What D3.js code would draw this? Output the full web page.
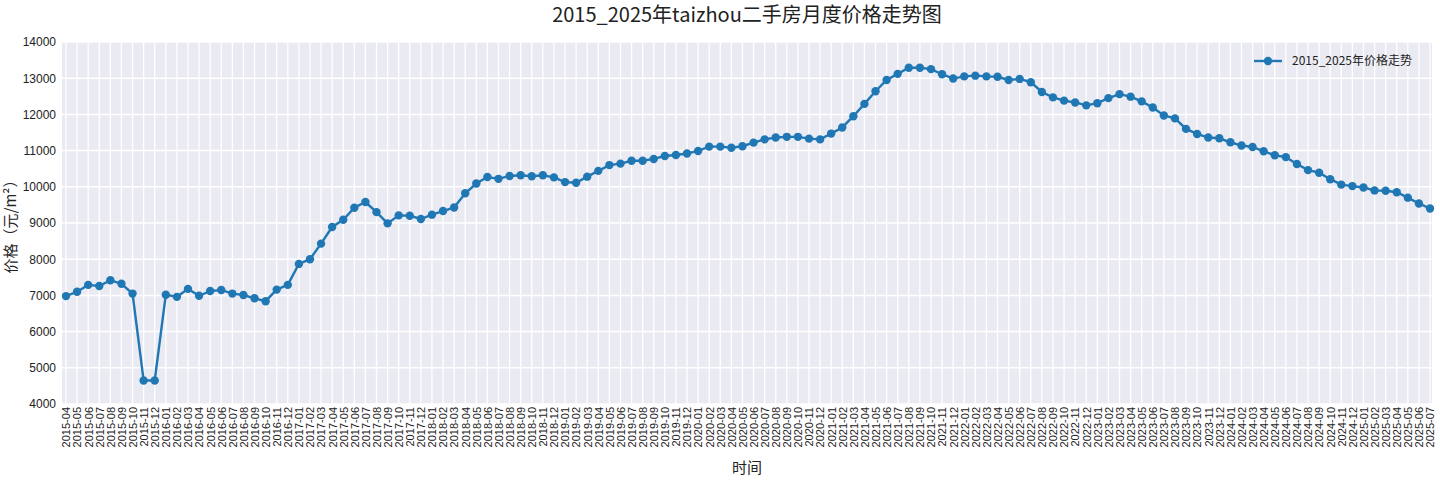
<!DOCTYPE html>
<html><head><meta charset="utf-8">
<script src="https://cdn.jsdelivr.net/npm/d3@7/dist/d3.min.js"></script>
<style>body{margin:0;background:#fff;font-family:"Noto Sans CJK SC","DejaVu Sans",sans-serif;}</style>
</head><body><svg id="c" width="1440" height="480"></svg>
<script>
const startYear = 2015, startMonth = 4;
const prices = [
6980,7100,7290,7260,7420,7320,7050,4650,4650,
7020,6960,7180,6990,7120,7150,7050,7010,6920,6840,7160,7290,
7870,8000,8430,8890,9090,9420,9580,9300,8990,9210,9200,9110,
9230,9330,9430,9820,10090,10270,10220,10300,10320,10290,10320,10260,
10130,10110,10280,10440,10600,10640,10720,10720,10770,10850,10880,10920,
10990,11110,11110,11080,11120,11220,11310,11360,11380,11380,11330,11310,
11470,11640,11950,12290,12640,12950,13120,13290,13290,13250,13110,12990,
13050,13070,13050,13040,12950,12980,12890,12620,12470,12380,12330,12250,
12310,12450,12560,12490,12360,12190,11970,11890,11600,11460,11360,11340,
11230,11140,11100,10980,10870,10820,10630,10460,10390,10210,10060,10020,
9980,9900,9890,9850,9700,9540,9400];
const months = prices.map((_, i) => {
  const m = startMonth - 1 + i;
  return `${startYear + Math.floor(m / 12)}-${String(m % 12 + 1).padStart(2, "0")}`;
});
const yTicks = d3.range(4000, 14001, 1000);
const title = "2015_2025年taizhou二手房月度价格走势图";
const seriesName = "2015_2025年价格走势";

const svg = d3.select("#c");
const L = 62, R = 1432, T = 42, B = 404;
const x = d3.scalePoint().domain(months).range([66, 1430]);
const y = d3.scaleLinear().domain([4000, 14000]).range([B, T]);
const color = "#1f77b4";

svg.append("rect").attr("x", L).attr("y", T).attr("width", R - L).attr("height", B - T).attr("fill", "#EAEAF2");
const g = svg.append("g");
g.selectAll(".vg").data(months).join("line").attr("x1", d => x(d)).attr("x2", d => x(d))
  .attr("y1", T).attr("y2", B).attr("stroke", "#fff").attr("stroke-width", 1.3);
g.selectAll(".hg").data(yTicks).join("line").attr("x1", L).attr("x2", R)
  .attr("y1", d => y(d)).attr("y2", d => y(d)).attr("stroke", "#fff").attr("stroke-width", 1.5);

const xa = svg.append("g").attr("transform", `translate(0,${B})`)
  .call(d3.axisBottom(x).tickSize(0).tickPadding(4));
xa.select(".domain").remove();
xa.selectAll(".tick text").attr("x", 0).attr("y", 0).attr("dx", 0).attr("dy", "0.35em")
  .attr("text-anchor", "end").attr("transform", "translate(0,3) rotate(-90)")
  .style("font-size", "11px").attr("fill", "#222");

const ya = svg.append("g").attr("transform", `translate(${L},0)`)
  .call(d3.axisLeft(y).tickValues(yTicks).tickFormat(d3.format("d")).tickSize(0).tickPadding(6));
ya.select(".domain").remove();
ya.selectAll("text").style("font-size", "12px").attr("fill", "#222");

const line = d3.line().x((d, i) => x(months[i])).y(d => y(d));
svg.append("path").datum(prices).attr("d", line).attr("fill", "none").attr("stroke", color).attr("stroke-width", 2.4);
svg.selectAll(".pt").data(prices).join("circle").attr("cx", (d, i) => x(months[i])).attr("cy", d => y(d))
  .attr("r", 4.2).attr("fill", color);

svg.append("text").attr("x", 747).attr("y", 22).attr("text-anchor", "middle")
  .style("font-size", "20px").attr("fill", "#222").text(title);
svg.append("text").attr("x", 747).attr("y", 473).attr("text-anchor", "middle")
  .style("font-size", "15px").attr("fill", "#222").text("时间");
svg.append("text").attr("transform", `translate(16,${(T + B) / 2}) rotate(-90)`).attr("text-anchor", "middle")
  .style("font-size", "15px").attr("fill", "#222").text("价格（元/m²）");

const lg = svg.append("g").attr("transform", "translate(1254,61)");
lg.append("line").attr("x1", 0).attr("x2", 28).attr("stroke", color).attr("stroke-width", 2.4);
lg.append("circle").attr("cx", 14).attr("r", 4.2).attr("fill", color);
lg.append("text").attr("x", 38).attr("dy", "0.35em").style("font-size", "12px").attr("fill", "#222").text(seriesName);
</script></body></html>
